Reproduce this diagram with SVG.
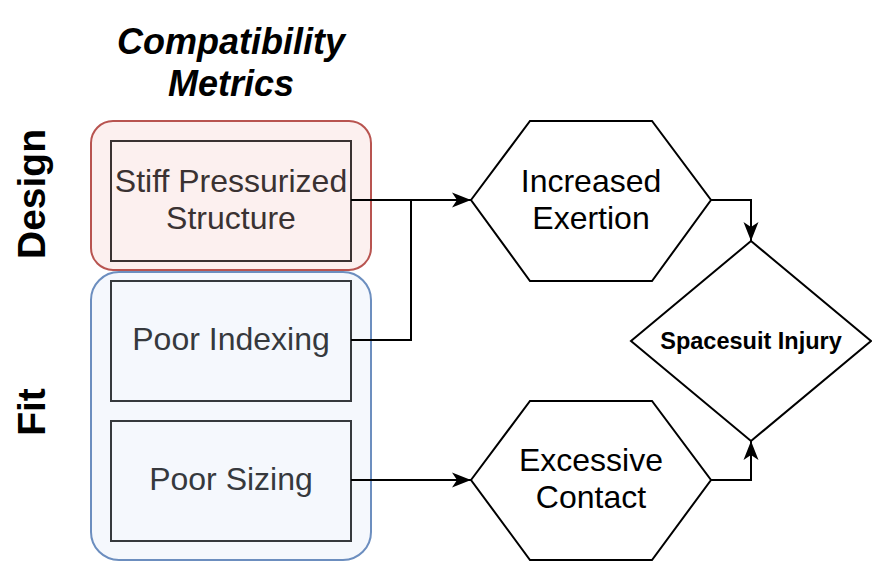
<svg xmlns="http://www.w3.org/2000/svg" width="872" height="562" viewBox="0 0 872 562">
<style>
text{font-family:"Liberation Sans",Arial,Helvetica,sans-serif;text-anchor:middle}
.m{font-size:32px}
.dark{fill:#36393d}
.redt{fill:#3a3232}
.box{stroke:#36393d;stroke-width:2}
.shape{fill:#ffffff;stroke:#000000;stroke-width:2}
.edge{fill:none;stroke:#000000;stroke-width:2}
.b{font-weight:bold}
</style>
<defs>
<marker id="arr" markerUnits="userSpaceOnUse" markerWidth="20" markerHeight="18" refX="19" refY="9" orient="auto">
<path d="M0,1.5 L19,9 L0,16.5 L5,9 Z" fill="#000"/>
</marker>
</defs>
<rect width="872" height="562" fill="#ffffff"/>
<g id="title">
<text x="231" y="54" class="b" style="font-style:italic;font-size:36px">Compatibility</text>
<text x="231" y="96" class="b" style="font-style:italic;font-size:36px">Metrics</text>
</g>
<g id="label-design"><text transform="translate(45,194) rotate(-90)" class="b" style="font-size:39px">Design</text></g>
<g id="label-fit"><text transform="translate(45,412) rotate(-90)" class="b" style="font-size:39px">Fit</text></g>
<g id="group-design"><rect x="91" y="121" width="280" height="149" rx="22" fill="#fcf0ef" stroke="#b85450" stroke-width="2"/></g>
<g id="group-fit"><rect x="91" y="272" width="280" height="288" rx="28" fill="#f5f8fd" stroke="#6c8ebf" stroke-width="2"/></g>
<g id="node-stiff">
<rect x="111" y="141" width="240" height="120" fill="#fcf0ef" stroke="#3a3232" stroke-width="2"/>
<text x="231" y="192" class="m redt">Stiff Pressurized</text>
<text x="231" y="229" class="m redt">Structure</text>
</g>
<g id="node-indexing">
<rect x="111" y="281" width="240" height="120" fill="#f5f8fd" class="box"/>
<text x="231" y="350" class="m dark">Poor Indexing</text>
</g>
<g id="node-sizing">
<rect x="111" y="421" width="240" height="120" fill="#f5f8fd" class="box"/>
<text x="231" y="490" class="m dark">Poor Sizing</text>
</g>
<g id="node-exertion">
<polygon points="471,200 530,121 652,121 711,200 652,281 530,281" class="shape"/>
<text x="591" y="192" class="m">Increased</text>
<text x="591" y="229" class="m">Exertion</text>
</g>
<g id="node-contact">
<polygon points="471,480 530,401 652,401 711,480 652,560 530,560" class="shape"/>
<text x="591" y="471" class="m">Excessive</text>
<text x="591" y="508" class="m">Contact</text>
</g>
<g id="node-injury">
<polygon points="751,241 871,341 751,441 631,341" class="shape"/>
<text x="751" y="349" class="b" style="font-size:23.5px">Spacesuit Injury</text>
</g>
<g id="connectors">
<path d="M351,200 L471,200" class="edge" marker-end="url(#arr)"/>
<path d="M351,340 L411,340 L411,200" class="edge"/>
<path d="M351,480 L471,480" class="edge" marker-end="url(#arr)"/>
<path d="M711,200 L751,200 L751,241" class="edge" marker-end="url(#arr)"/>
<path d="M711,480 L751,480 L751,441" class="edge" marker-end="url(#arr)"/>
</g>
</svg>
